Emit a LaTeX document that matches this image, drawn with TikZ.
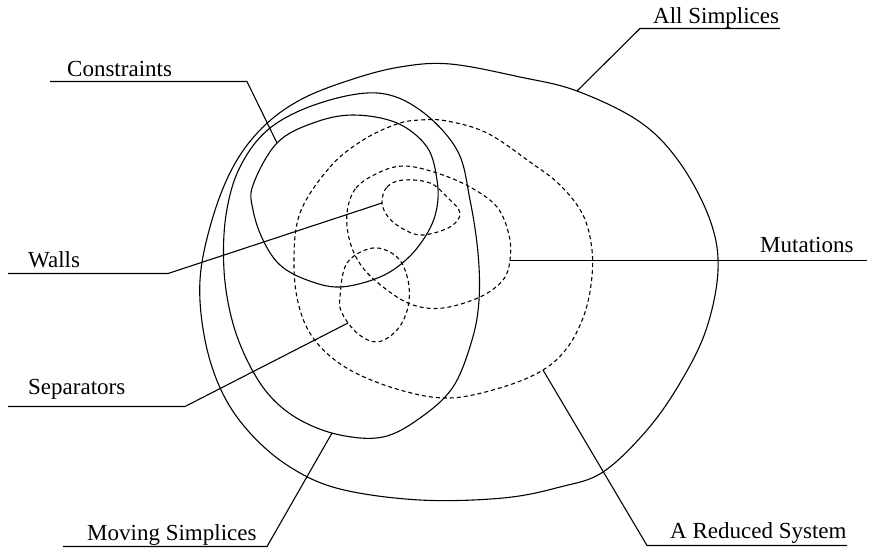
\documentclass[tikz,border=0pt]{standalone}
\usepackage{fontspec}
\setmainfont{Liberation Serif}
\begin{document}
\begin{tikzpicture}[x=1pt,y=-1pt,
  curve/.style={line width=1.1pt,line join=round},
  dcurve/.style={line width=1.1pt,dash pattern=on 4pt off 3pt},
  leader/.style={line width=1.1pt,line join=miter},
  lbl/.style={anchor=base west,inner sep=0pt,font=\fontsize{23}{28}\selectfont}]
\useasboundingbox (0,0) rectangle (869,549);

% All Simplices (outer)
\draw[curve] plot[smooth cycle,tension=0.6] coordinates {
 (200,280) (205,340) (222,392) (250,433) (290,467) (340,489) (420,500)
 (503,498) (560,487) (603,472) (647,430) (680,383) (706,330) (718,270)
 (710,220) (680,163) (640,122) (577,91) (520,77) (450,64) (400,67)
 (350,80) (300,100) (262,128) (233,167) (212,220)};

% Moving Simplices (middle)
\draw[curve] plot[smooth cycle,tension=0.6] coordinates {
 (377,93) (420,110) (457,150) (470,200) (478,253) (479,300) (472,340)
 (453,387) (420,418) (383,437) (340,435) (300,420) (270,396) (248,362)
 (232,320) (224,270) (226,215) (240,167) (270,128) (320,103)};

% Constraints (inner)
\draw[curve] plot[smooth cycle,tension=0.6] coordinates {
 (277,143) (313,123) (353,115) (397,123) (427,147) (437,180) (437,207)
 (428,232) (408,258) (380,277) (340,287) (307,280) (280,265) (263,240)
 (253,210) (253,185)};

% A Reduced System (big dashed)
\draw[dcurve] plot[smooth cycle,tension=0.6] coordinates {
 (300,213) (330,167) (363,140) (397,124) (420,120) (447,121) (487,133)
 (530,162) (560,185) (583,215) (592,250) (591,285) (583,318) (567,348)
 (543,370) (503,387) (450,398) (400,390) (350,370) (317,343) (300,310)
 (294,265)};

% Mutations (medium dashed)
\draw[dcurve] plot[smooth cycle,tension=0.6] coordinates {
 (347,213) (356,188) (380,172) (405,166) (437,173) (470,187) (497,207)
 (509,235) (510,260) (503,280) (480,297) (443,308) (413,305) (387,290)
 (363,268) (350,242)};

% Walls (small dashed)
\draw[dcurve] plot[smooth cycle,tension=0.6] coordinates {
 (382,203) (387,187) (403,180) (430,183) (447,197) (460,213) (450,227)
 (423,235) (405,230) (389,218)};

% Separators (dashed)
\draw[dcurve] plot[smooth cycle,tension=0.6] coordinates {
 (340,297) (347,263) (373,248) (397,257) (408,280) (408,307) (397,330)
 (377,342) (357,333) (342,313)};

% labels
\node[lbl] (tC) at (67,76) {Constraints};
\node[lbl] (tA) at (653,23) {All Simplices};
\node[lbl] (tW) at (28,267) {Walls};
\node[lbl] (tM) at (760,252) {Mutations};
\node[lbl] (tS) at (28,394) {Separators};
\node[lbl] (tMS) at (87,540) {Moving Simplices};
\node[lbl] (tR) at (670,538) {A Reduced System};

% leader coordinates
\coordinate (c1) at (50,81.5);   \coordinate (c2) at (247,81.5);  \coordinate (c3) at (277,143);
\coordinate (a1) at (780,28.5);  \coordinate (a2) at (640,28.5);  \coordinate (a3) at (577,91);
\coordinate (w1) at (8,273.5);   \coordinate (w2) at (168,273.5); \coordinate (w3) at (382,203);
\coordinate (m1) at (867,260.5); \coordinate (m2) at (510,260.5);
\coordinate (s1) at (8,406.5);   \coordinate (s2) at (185,406.5); \coordinate (s3) at (348,323);
\coordinate (v1) at (63,546.5);  \coordinate (v2) at (267,546.5); \coordinate (v3) at (332,433);
\coordinate (r1) at (847,545.5); \coordinate (r2) at (647,545.5); \coordinate (r3) at (543,370);

\draw[leader] (c1) -- (c2) -- (c3);
\draw[leader] (a1) -- (a2) -- (a3);
\draw[leader] (w1) -- (w2) -- (w3);
\draw[leader] (m1) -- (m2);
\draw[leader] (s1) -- (s2) -- (s3);
\draw[leader] (v1) -- (v2) -- (v3);
\draw[leader] (r1) -- (r2) -- (r3);
\end{tikzpicture}
\end{document}
